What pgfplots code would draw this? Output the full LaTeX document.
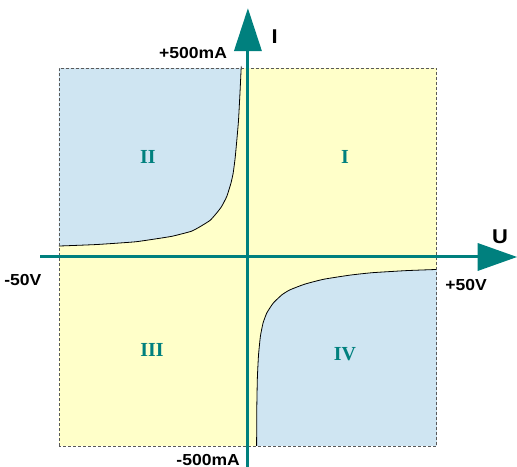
\documentclass[border=0pt]{standalone}
\usepackage{pgfplots}
\pgfplotsset{compat=1.18}
\usepackage{fontspec}
\newfontfamily\labfont{Liberation Sans}[FakeStretch=1.1]
\newfontfamily\romfont{Liberation Serif}
\definecolor{tealc}{RGB}{0,128,126}
\definecolor{bluec}{RGB}{207,229,242}
\definecolor{yelc}{RGB}{255,255,201}
\begin{document}
\begin{tikzpicture}[x=1bp,y=1bp]
\begin{axis}[
  width=378bp, height=378bp, scale only axis,
  xmin=-50, xmax=50, ymin=-500, ymax=500,
  axis lines=none, clip=false,
]
\path[use as bounding box] (axis cs:-65.6,680) rectangle (axis cs:71.2,-555.6);
% background
\addplot[fill=yelc, draw=none] coordinates {(-50,-500) (50,-500) (50,500) (-50,500)} -- cycle;
% quadrant II
\addplot[fill=bluec, draw=none] coordinates {(-50,500) (-50,29) (-40,33) (-30,40) (-25,47) (-20,55) (-15,68) (-12.7,80) (-10,97) (-8.3,116) (-7,133) (-5.6,160) (-4.5,195) (-3.9,222) (-3.4,260) (-3,302) (-2.5,360) (-2.1,434) (-1.8,497) (-1.75,500)} -- cycle;
\addplot[black, line width=0.8bp, smooth, tension=0.3] coordinates {(-50,29) (-40,33) (-30,40) (-25,47) (-20,55) (-15,68) (-12.7,80) (-10,97) (-8.3,116) (-7,133) (-5.6,160) (-4.5,195) (-3.9,222) (-3.4,260) (-3,302) (-2.5,360) (-2.1,434) (-1.8,497) (-1.75,500)};
% quadrant IV
\addplot[fill=bluec, draw=none] coordinates {(2.3,-500) (2.35,-400) (2.5,-320) (2.8,-260) (3.3,-210) (4,-175) (5,-148) (6.7,-122) (9,-100) (11.1,-87) (15,-72) (20,-59) (27,-48) (33,-41.5) (42,-36) (50,-33) (50,-500)} -- cycle;
\addplot[black, line width=0.8bp, smooth, tension=0.3] coordinates {(2.3,-500) (2.35,-400) (2.5,-320) (2.8,-260) (3.3,-210) (4,-175) (5,-148) (6.7,-122) (9,-100) (11.1,-87) (15,-72) (20,-59) (27,-48) (33,-41.5) (42,-36) (50,-33)};
% border
\draw[gray!70!black, line width=0.8bp, dash pattern=on 3bp off 2bp] (axis cs:-50,-500) rectangle (axis cs:50,500);
% axes
\draw[tealc, line width=3bp] (axis cs:0,-555.6) -- (axis cs:0,550);
\fill[tealc] (axis cs:-3.7,545) -- (axis cs:3.7,545) -- (axis cs:0,658) -- cycle;
\draw[tealc, line width=3bp] (axis cs:-55,0) -- (axis cs:61.5,0);
\fill[tealc] (axis cs:60.8,37) -- (axis cs:60.8,-37) -- (axis cs:71.2,0) -- cycle;
% labels
\node[anchor=east, inner sep=0pt, font=\labfont\bfseries\fontsize{16}{19}\selectfont] at (axis cs:-5.5,539) {+500mA};
\node[anchor=east, inner sep=0pt, font=\labfont\bfseries\fontsize{16}{19}\selectfont] at (axis cs:-2.1,-536) {-500mA};
\node[anchor=west, inner sep=0pt, font=\labfont\bfseries\fontsize{16}{19}\selectfont] at (axis cs:-64.5,-61) {-50V};
\node[anchor=west, inner sep=0pt, font=\labfont\bfseries\fontsize{16}{19}\selectfont] at (axis cs:52.2,-74) {+50V};
\node[inner sep=0pt, font=\labfont\bfseries\fontsize{20}{24}\selectfont] at (axis cs:7.1,582) {I};
\node[inner sep=0pt, font=\labfont\bfseries\fontsize{20}{24}\selectfont] at (axis cs:66.7,53) {U};
\node[inner sep=0pt, text=tealc, font=\romfont\bfseries\fontsize{20}{24}\selectfont] at (axis cs:-26.5,264.5) {II};
\node[inner sep=0pt, text=tealc, font=\romfont\bfseries\fontsize{20}{24}\selectfont] at (axis cs:25.7,264.5) {I};
\node[inner sep=0pt, text=tealc, font=\romfont\bfseries\fontsize{20}{24}\selectfont] at (axis cs:-25.4,-246) {III};
\node[inner sep=0pt, text=tealc, font=\romfont\bfseries\fontsize{20}{24}\selectfont] at (axis cs:25.7,-257) {IV};
\end{axis}
\end{tikzpicture}
\end{document}
